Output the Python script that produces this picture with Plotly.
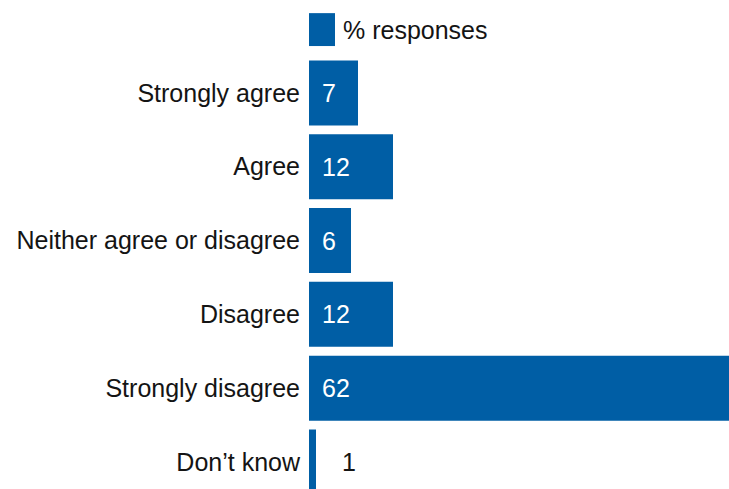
import plotly.graph_objects as go

# Survey responses, share of respondents (%)
categories = ["Strongly agree", "Agree", "Neither agree or disagree",
              "Disagree", "Strongly disagree", "Don\u2019t know"]
values = [7, 12, 6, 12, 62, 1]
series_name = "% responses"

BAR = "#005EA5"
TEXT = "#141414"
FONT = "Liberation Sans, Arial, sans-serif"
FS = 25

fig = go.Figure()
fig.add_trace(go.Bar(
    x=values, y=categories, orientation="h",
    marker=dict(color=BAR, line=dict(width=0)),
    name=series_name, showlegend=False, hoverinfo="skip",
))

# value labels: inside the bar near its base, or just past the end for tiny bars
annotations = []
for cat, v in zip(categories, values):
    if v >= 3:
        annotations.append(dict(x=0, y=cat, xref="x", yref="y", text=str(v),
                                showarrow=False, xanchor="left", yanchor="middle",
                                xshift=11, font=dict(color="white", size=FS, family=FONT)))
    else:
        annotations.append(dict(x=v, y=cat, xref="x", yref="y", text=str(v),
                                showarrow=False, xanchor="left", yanchor="middle",
                                xshift=24, font=dict(color=TEXT, size=FS, family=FONT)))

# legend key drawn as a swatch plus label
annotations.append(dict(x=0.075, y=1.060, xref="paper", yref="paper", text=series_name,
                        showarrow=False, xanchor="left", yanchor="middle",
                        font=dict(color=TEXT, size=FS, family=FONT)))
shapes = [dict(type="rect", xref="paper", yref="paper", x0=0, x1=26 / 420,
               y0=1.023, y1=1.099, fillcolor=BAR, line=dict(width=0))]

fig.update_layout(
    width=729, height=489,
    margin=dict(l=309, r=0, t=56, b=0, pad=0),
    paper_bgcolor="white", plot_bgcolor="white",
    bargap=0.12,
    font=dict(family=FONT, size=FS, color=TEXT),
    annotations=annotations, shapes=shapes,
    xaxis=dict(range=[0, 60], visible=False, fixedrange=True),
    yaxis=dict(categoryorder="array", categoryarray=categories,
               range=[5.366, -0.5], showgrid=False, zeroline=False, showline=False,
               ticks="outside", ticklen=3, tickcolor="rgba(0,0,0,0)",
               tickfont=dict(size=FS, color=TEXT, family=FONT), automargin=False),
)

fig.write_html("out.html")
